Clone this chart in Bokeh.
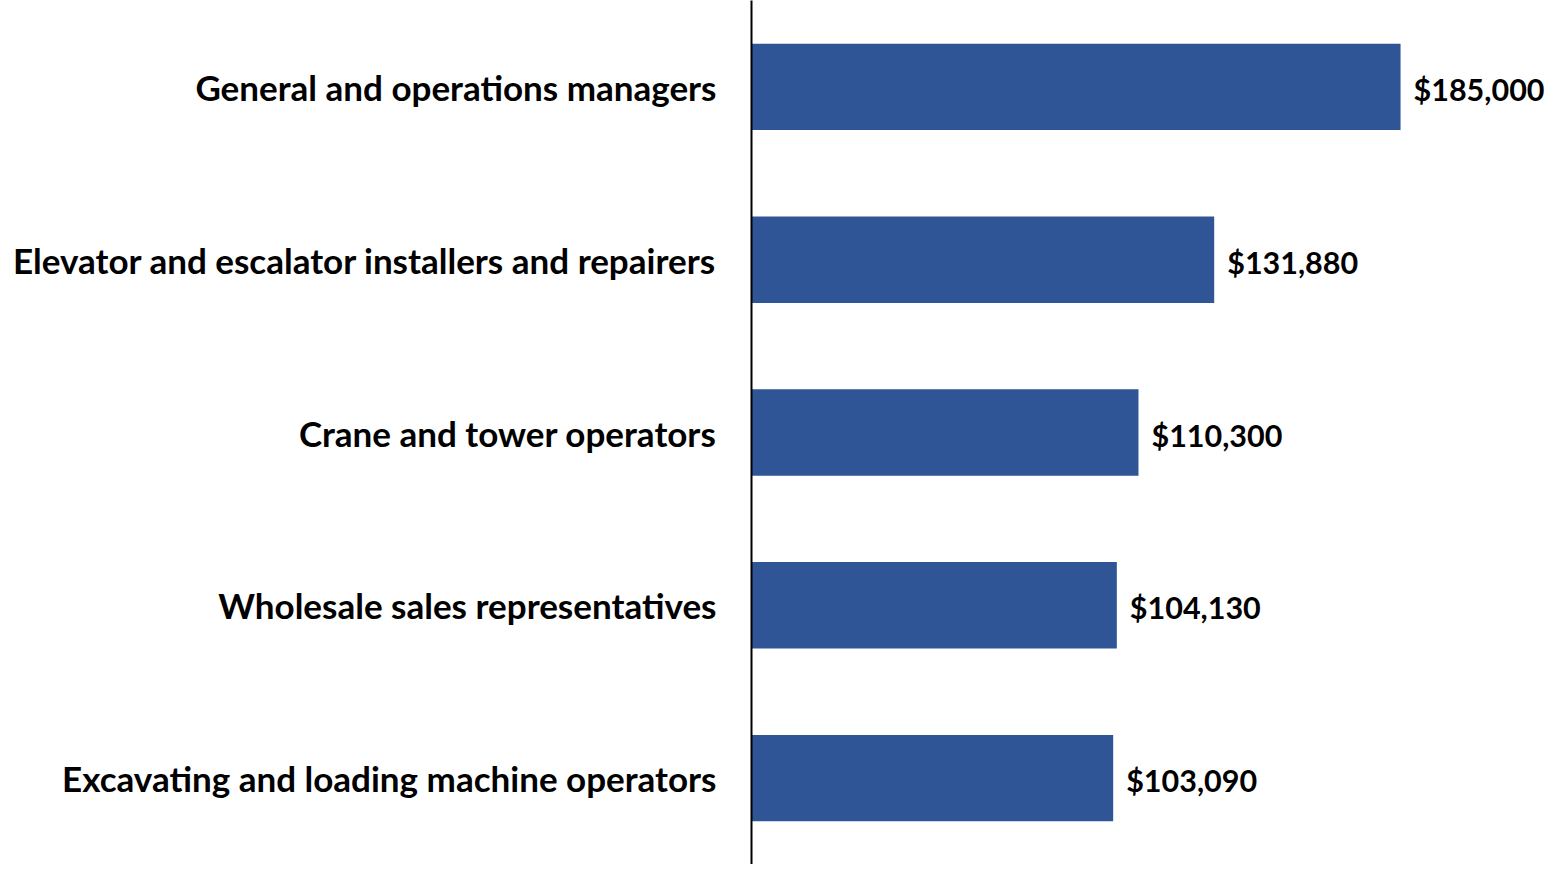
from bokeh.plotting import figure
from bokeh.models import Range1d, ColumnDataSource, FactorRange
from bokeh.embed import file_html
from bokeh.resources import INLINE
from bokeh.core.properties import value

occupations = [
    "General and operations managers",
    "Elevator and escalator installers and repairers",
    "Crane and tower operators",
    "Wholesale sales representatives",
    "Excavating and loading machine operators",
]
wages = [185000, 131880, 110300, 104130, 103090]
labels = ["$185,000", "$131,880", "$110,300", "$104,130", "$103,090"]

FONT = "Lato"

src = ColumnDataSource(dict(occ=occupations, wage=wages, lab=labels))

p = figure(
    width=1546, height=864,
    y_range=FactorRange(factors=list(reversed(occupations)), range_padding=0),
    x_range=Range1d(0, 226600),
    output_backend="svg", toolbar_location=None,
    min_border_left=751, min_border_right=0, min_border_top=0, min_border_bottom=0,
)
p.hbar(y="occ", right="wage", left=0, height=0.5, source=src,
       fill_color="#2F5597", line_color=None)
p.text(x="wage", y="occ", text="lab", source=src, x_offset=13, y_offset=2,
       text_align="left", text_baseline="middle",
       text_font=value(FONT), text_font_style="bold", text_font_size="30.5px",
       text_color="black")

p.xaxis.visible = False
p.xgrid.visible = False
p.ygrid.visible = False
p.outline_line_color = None

ya = p.yaxis[0]
ya.axis_line_color = "black"
ya.axis_line_width = 2
ya.major_tick_line_color = None
ya.minor_tick_line_color = None
ya.major_label_standoff = 29
ya.major_label_text_font = FONT
ya.major_label_text_font_style = "bold"
ya.major_label_text_font_size = "35px"
ya.major_label_text_color = "black"

open("out.html", "w").write(file_html(p, INLINE))
